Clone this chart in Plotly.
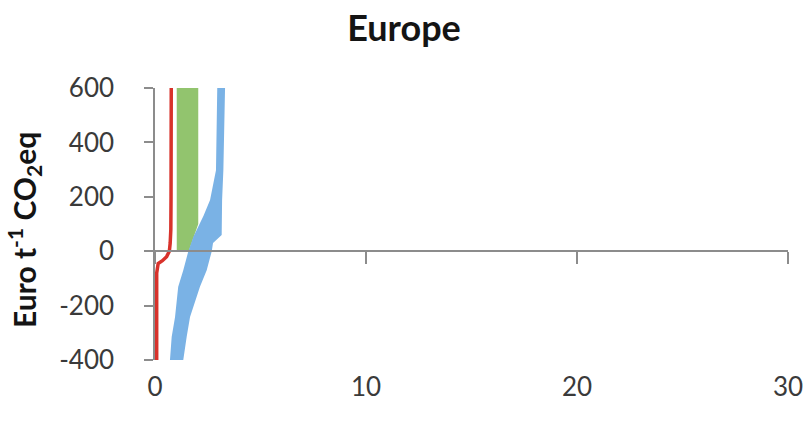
import plotly.graph_objects as go

# Cost levels (Euro per t CO2eq) and cumulative abatement for each curve
red_x = [0.08, 0.08, 0.15, 0.35, 0.55, 0.68, 0.72, 0.75, 0.76, 0.77]
red_y = [-400, -80, -45, -35, -20, 0, 30, 80, 200, 600]

green_x = [1.03, 1.03, 2.05, 2.05, 1.60]
green_y = [0, 600, 600, 100, 0]

blue_left_y = [-400, -315, -242, -160, -131, -70, 0, 53, 130, 188, 298, 600]
blue_left_x = [0.71, 0.79, 0.95, 1.05, 1.10, 1.34, 1.58, 1.82, 2.30, 2.61, 2.89, 2.95]
blue_right_y = [600, 298, 188, 60, 30, 0, -70, -131, -242, -315, -400]
blue_right_x = [3.32, 3.24, 3.18, 3.16, 2.75, 2.69, 2.45, 2.13, 1.66, 1.50, 1.34]

x_ticks = [0, 10, 20, 30]
y_ticks = [-400, -200, 0, 200, 400, 600]
y_tick_labels = ["-400", "-200", "0", "200", "400", "600"]

FONT = "Lato"
AXIS_GREY = "#8c8c8c"
TEXT = "#3a3a3a"

fig = go.Figure()

fig.add_trace(go.Scatter(
    x=green_x, y=green_y, mode="lines", fill="toself",
    fillcolor="#92c46e", line=dict(width=0), hoverinfo="skip", showlegend=False))

fig.add_trace(go.Scatter(
    x=blue_left_x + blue_right_x, y=blue_left_y + blue_right_y,
    mode="lines", fill="toself", fillcolor="#7ab2e5",
    line=dict(width=0), hoverinfo="skip", showlegend=False))

fig.add_trace(go.Scatter(
    x=red_x, y=red_y, mode="lines",
    line=dict(color="#d8322b", width=3.5), hoverinfo="skip", showlegend=False))

# helper trace so the zero-crossing axis gets drawn
fig.add_trace(go.Scatter(x=[None], y=[None], xaxis="x2", yaxis="y",
                         showlegend=False, hoverinfo="skip"))

fig.update_layout(
    width=808, height=421,
    margin=dict(l=155, r=20, t=88, b=61, autoexpand=False),
    paper_bgcolor="white", plot_bgcolor="white",
    font=dict(family=FONT, color=TEXT),
    title=dict(text="<b>Europe</b>", x=0.5, xanchor="center",
               y=(421 - 28) / 421, yref="container", yanchor="middle",
               font=dict(family=FONT, size=36, color="#141414")),
    xaxis=dict(range=[0, 30], tickvals=x_ticks, showline=False, showgrid=False,
               zeroline=False, ticks="", ticklabelstandoff=9, automargin=False,
               tickfont=dict(size=26, color=TEXT)),
    xaxis2=dict(range=[0, 30], overlaying="x", anchor="free", position=0.4,
                side="bottom", tickvals=x_ticks, showline=True, automargin=False,
                linecolor=AXIS_GREY, linewidth=1.5, ticks="outside", ticklen=12,
                tickcolor=AXIS_GREY, tickwidth=1.5, showticklabels=False,
                showgrid=False, zeroline=False),
    yaxis=dict(range=[-400, 600], tickvals=y_ticks, ticktext=y_tick_labels,
               showline=True, linecolor=AXIS_GREY, linewidth=1.5, automargin=False,
               ticks="outside", ticklen=9, tickcolor=AXIS_GREY, tickwidth=1.5,
               showgrid=False, zeroline=False, ticklabelstandoff=25,
               tickfont=dict(size=26, color=TEXT)),
    annotations=[dict(
        text="<b>Euro t<sup>-1</sup> CO<sub>2</sub>eq</b>",
        xref="paper", yref="paper", x=(24 - 155) / 633, y=(360 - 230) / 272,
        xanchor="center", yanchor="middle", textangle=-90, showarrow=False,
        font=dict(family=FONT, size=30, color="#141414"))],
)

fig.write_html("out.html")
